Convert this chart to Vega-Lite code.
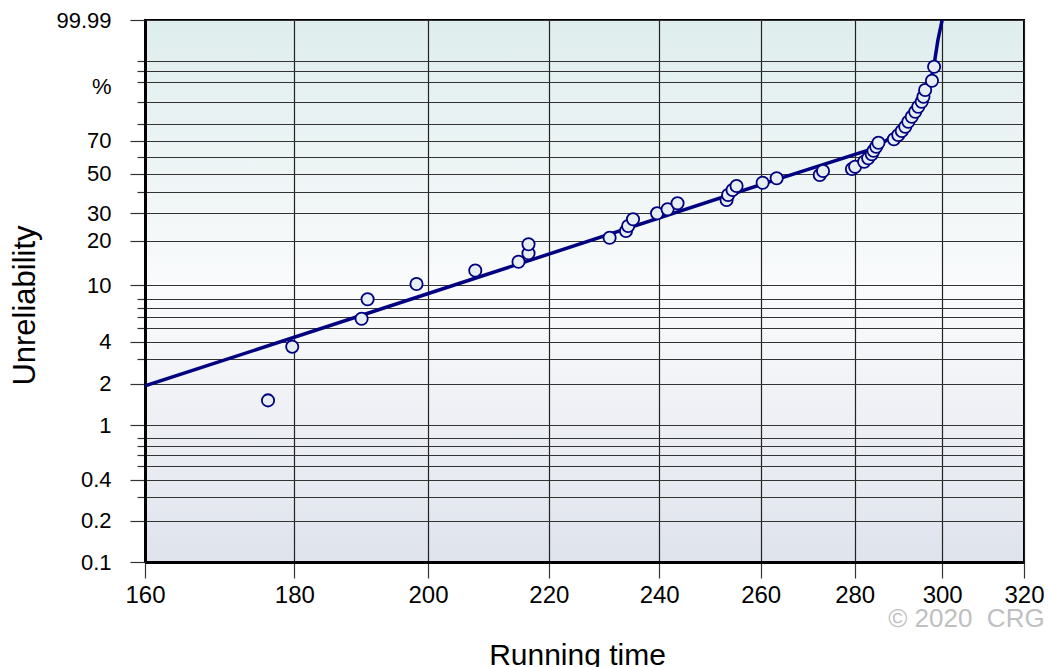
{
  "$schema": "https://vega.github.io/schema/vega-lite/v6.json",
  "width": 879,
  "height": 542,
  "autosize": {"type": "none"},
  "padding": {"left": 145, "top": 20, "right": 24, "bottom": 105},
  "background": "white",
  "config": {
    "view": {
      "stroke": "#000",
      "strokeWidth": 2,
      "fill": {"gradient": "linear", "x1": 0, "y1": 0, "x2": 0, "y2": 1,
        "stops": [{"offset": 0, "color": "#dfeded"}, {"offset": 0.5, "color": "#fafbfc"}, {"offset": 1, "color": "#dfe3ec"}]}
    },
    "axis": {"labelFont": "Liberation Sans", "titleFont": "Liberation Sans", "labelColor": "#000", "titleColor": "#000", "titleFontWeight": "normal"}
  },
  "datasets": {
    "obs": [
      {"t": 176.3, "F": 1.51}, {"t": 179.7, "F": 3.69}, {"t": 189.8, "F": 5.84}, {"t": 190.7, "F": 8.01},
      {"t": 198.2, "F": 10.24}, {"t": 207.6, "F": 12.68}, {"t": 214.8, "F": 14.55}, {"t": 216.5, "F": 16.57},
      {"t": 216.5, "F": 19.0}, {"t": 230.8, "F": 20.98}, {"t": 233.8, "F": 23.18}, {"t": 234.2, "F": 24.94},
      {"t": 235.1, "F": 27.46}, {"t": 239.6, "F": 29.89}, {"t": 241.6, "F": 31.61}, {"t": 243.5, "F": 34.32},
      {"t": 253.1, "F": 35.88}, {"t": 253.4, "F": 38.33}, {"t": 254.3, "F": 40.9}, {"t": 255.1, "F": 43.02},
      {"t": 260.4, "F": 44.83}, {"t": 263.3, "F": 47.3}, {"t": 272.4, "F": 49.19}, {"t": 273.1, "F": 51.53},
      {"t": 279.4, "F": 52.72}, {"t": 280.1, "F": 54.1}, {"t": 282.1, "F": 57.13}, {"t": 283.0, "F": 59.22},
      {"t": 283.8, "F": 61.69}, {"t": 284.2, "F": 63.92}, {"t": 284.8, "F": 66.39}, {"t": 285.3, "F": 68.85},
      {"t": 288.8, "F": 70.92}, {"t": 289.8, "F": 73.5}, {"t": 290.6, "F": 75.84}, {"t": 291.4, "F": 78.28},
      {"t": 292.1, "F": 81.01}, {"t": 292.9, "F": 83.59}, {"t": 293.7, "F": 86.0}, {"t": 294.4, "F": 88.22},
      {"t": 295.2, "F": 90.24}, {"t": 295.6, "F": 92.04}, {"t": 296.0, "F": 94.12}, {"t": 297.6, "F": 96.36},
      {"t": 298.1, "F": 98.49}
    ],
    "fit": [
      {"t": 160, "F": 1.921}, {"t": 206.7, "F": 10.91}, {"t": 264.0, "F": 47.3}, {"t": 283.9, "F": 64.97},
      {"t": 285.7, "F": 68.05}, {"t": 287.9, "F": 71.53}, {"t": 290.2, "F": 75.27}, {"t": 291.8, "F": 78.28},
      {"t": 293.7, "F": 82.42}, {"t": 294.8, "F": 86.78}, {"t": 296.4, "F": 93.54}, {"t": 297.9, "F": 98.11},
      {"t": 299.0, "F": 99.861}, {"t": 300.0, "F": 99.99}
    ],
    "note": [{"label": "© 2020\u00a0 CRG", "t": 287.5, "F": 0.0335}]
  },
  "encoding": {
    "x": {
      "field": "t", "type": "quantitative",
      "scale": {"type": "log", "domain": [160, 320], "nice": false},
      "axis": {
        "values": [160, 180, 200, 220, 240, 260, 280, 300, 320], "format": "d",
        "title": "Running time", "titleFontSize": 30, "titleX": 432, "titleY": 102, "titleBaseline": "alphabetic",
        "labelFontSize": 24, "labelPadding": 5, "labelFlush": false, "labelOverlap": false,
        "tickSize": 16, "tickColor": "#333", "tickWidth": 1.2,
        "domainColor": "#000", "domainWidth": 3,
        "grid": true, "gridColor": "#222", "gridWidth": 1.2
      }
    },
    "y": {
      "field": "h", "type": "quantitative",
      "scale": {"type": "log", "domain": [0.0010005, 9.2103404], "nice": false},
      "axis": {
        "values": [0.0010005, 0.002002, 0.0030045, 0.004008, 0.0050125, 0.0060181, 0.0070246, 0.0080322,
          0.0100503, 0.0202027, 0.0304592, 0.040822, 0.0512933, 0.0618754, 0.0725707, 0.0833816,
          0.1053605, 0.2231436, 0.3566749, 0.5108256, 0.6931472, 0.9162907, 1.2039728, 1.6094379,
          2.3025851, 2.9957323, 3.2188758, 3.912023, 4.6051702, 9.2103404],
        "labelExpr": "indexof([0.1,0.2,0.4,1,2,4,10,20,30,50,70], round(1000*(1-exp(-datum.value)))/10) >= 0 ? '' + round(1000*(1-exp(-datum.value)))/10 : (datum.value > 9 ? '99.99' : (abs(datum.value - 2.9957) < 0.01 ? '%' : ''))",
        "title": "Unreliability", "titleFontSize": 31, "titleAngle": 270, "titleX": -111, "titleY": 285,
        "titleBaseline": "alphabetic", "titleAlign": "center",
        "labelFontSize": 22, "labelPadding": 19, "labelOverlap": false, "labelBaseline": "middle", "labelFlush": false,
        "tickSize": {"condition": {"test": "indexof([0.3,0.5,0.6,0.7,0.8,3,5,6,7,8,40,60,80,90,96,98,99], round(1000*(1-exp(-datum.value)))/10) >= 0", "value": 8}, "value": 15},
        "tickOpacity": {"condition": {"test": "abs(datum.value - 2.9957) < 0.01", "value": 0}, "value": 1},
        "tickColor": "#333", "tickWidth": 1.2,
        "domainColor": "#000", "domainWidth": 3,
        "grid": true, "gridColor": "#333", "gridWidth": 1,
        "gridOpacity": {"condition": {"test": "abs(datum.value - 2.9957) < 0.01", "value": 0}, "value": 1}
      }
    }
  },
  "layer": [
    {
      "data": {"name": "fit"},
      "transform": [{"calculate": "-log(1 - datum.F/100)", "as": "h"}],
      "mark": {"type": "line", "color": "#000080", "strokeWidth": 3.5, "clip": true}
    },
    {
      "data": {"name": "obs"},
      "transform": [{"calculate": "-log(1 - datum.F/100)", "as": "h"}],
      "mark": {"type": "circle", "fill": "#e6eef2", "stroke": "#000080", "strokeWidth": 1.8, "opacity": 1, "size": 150}
    },
    {
      "data": {"name": "note"},
      "transform": [{"calculate": "-log(1 - datum.F/100)", "as": "h"}],
      "mark": {"type": "text", "align": "left", "baseline": "alphabetic", "font": "Liberation Sans", "fontSize": 26, "fill": "#c0c0c0", "clip": false},
      "encoding": {
        "text": {"field": "label", "type": "nominal"}
      }
    }
  ]
}
